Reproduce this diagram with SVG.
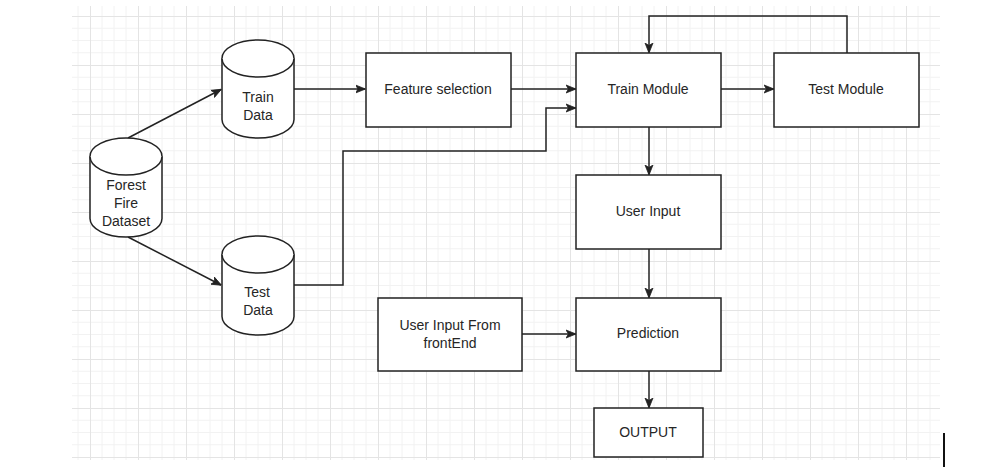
<svg xmlns="http://www.w3.org/2000/svg" width="1004" height="476" viewBox="0 0 1004 476">
<style>
.box{fill:#fff;stroke:#222;stroke-width:1.5}
.cyl{fill:#fff;stroke:#222;stroke-width:1.5}
.lbl{font-family:"Liberation Sans",Arial,sans-serif;font-size:14px;fill:#262626;text-anchor:middle}
.edge{fill:none;stroke:#222;stroke-width:1.5}
</style>
<defs>
<pattern id="grid" patternUnits="userSpaceOnUse" x="90" y="16" width="48" height="49">
<path d="M12 0V49M24 0V49M36 0V49M0 12.25H48M0 24.5H48M0 36.75H48" stroke="#f2f2f2" stroke-width="1" fill="none"/>
<path d="M0.5 0V49M0 0.5H48" stroke="#e4e4e4" stroke-width="1" fill="none"/>
</pattern>
<marker id="arr" viewBox="0 0 10 10" refX="9.5" refY="5" markerWidth="10" markerHeight="10" markerUnits="userSpaceOnUse" orient="auto">
<path d="M0 1 L10 5 L0 9 L2.5 5 Z" fill="#222" stroke="#222" stroke-width="0.8"/>
</marker>
</defs>
<rect width="1004" height="476" fill="#fff"/>
<rect x="72" y="6" width="868" height="454" fill="url(#grid)"/>
<rect x="943" y="433" width="2" height="34" fill="#111"/>

<g id="connectors">
<path class="edge" d="M128 138 L221 89.5" marker-end="url(#arr)"/>
<path class="edge" d="M128 237 L221 285" marker-end="url(#arr)"/>
<path class="edge" d="M294 89 H365" marker-end="url(#arr)"/>
<path class="edge" d="M511 89 H575.5" marker-end="url(#arr)"/>
<path class="edge" d="M294 285 H343 V151 H546 V108 H575.5" marker-end="url(#arr)"/>
<path class="edge" d="M721 89 H773.5" marker-end="url(#arr)"/>
<path class="edge" d="M847 53 V16 H649 V52.5" marker-end="url(#arr)"/>
<path class="edge" d="M649 127 V174.5" marker-end="url(#arr)"/>
<path class="edge" d="M649 249 V297.5" marker-end="url(#arr)"/>
<path class="edge" d="M522 334 H575.5" marker-end="url(#arr)"/>
<path class="edge" d="M649 371 V407.5" marker-end="url(#arr)"/>
</g>

<g id="forest-fire-dataset">
<path class="cyl" d="M90 156.5 A36 18.5 0 0 1 162 156.5 V218.5 A36 18.5 0 0 1 90 218.5 Z"/>
<path class="cyl" d="M90 156.5 A36 18.5 0 0 0 162 156.5" fill="none"/>
<text class="lbl" x="126" y="190">Forest</text>
<text class="lbl" x="126" y="208">Fire</text>
<text class="lbl" x="126" y="226">Dataset</text>
</g>

<g id="train-data">
<path class="cyl" d="M222 58.5 A36 18.5 0 0 1 294 58.5 V119.5 A36 18.5 0 0 1 222 119.5 Z"/>
<path class="cyl" d="M222 58.5 A36 18.5 0 0 0 294 58.5" fill="none"/>
<text class="lbl" x="258" y="102">Train</text>
<text class="lbl" x="258" y="120">Data</text>
</g>

<g id="test-data">
<path class="cyl" d="M222 254.5 A36 18.5 0 0 1 294 254.5 V316.5 A36 18.5 0 0 1 222 316.5 Z"/>
<path class="cyl" d="M222 254.5 A36 18.5 0 0 0 294 254.5" fill="none"/>
<text class="lbl" x="257" y="297">Test</text>
<text class="lbl" x="258" y="315">Data</text>
</g>

<g id="feature-selection">
<rect class="box" x="366" y="53" width="145" height="74"/>
<text class="lbl" x="438" y="94">Feature selection</text>
</g>

<g id="train-module">
<rect class="box" x="576" y="53" width="145" height="74"/>
<text class="lbl" x="648" y="94">Train Module</text>
</g>

<g id="test-module">
<rect class="box" x="774" y="53" width="145" height="74"/>
<text class="lbl" x="846" y="94">Test Module</text>
</g>

<g id="user-input">
<rect class="box" x="576" y="175" width="145" height="74"/>
<text class="lbl" x="648" y="216">User Input</text>
</g>

<g id="user-input-frontend">
<rect class="box" x="378" y="298" width="144" height="73"/>
<text class="lbl" x="450" y="330">User Input From</text>
<text class="lbl" x="450" y="348">frontEnd</text>
</g>

<g id="prediction">
<rect class="box" x="576" y="298" width="145" height="73"/>
<text class="lbl" x="648" y="338">Prediction</text>
</g>

<g id="output">
<rect class="box" x="594" y="408" width="109" height="49"/>
<text class="lbl" x="648" y="437">OUTPUT</text>
</g>
</svg>
